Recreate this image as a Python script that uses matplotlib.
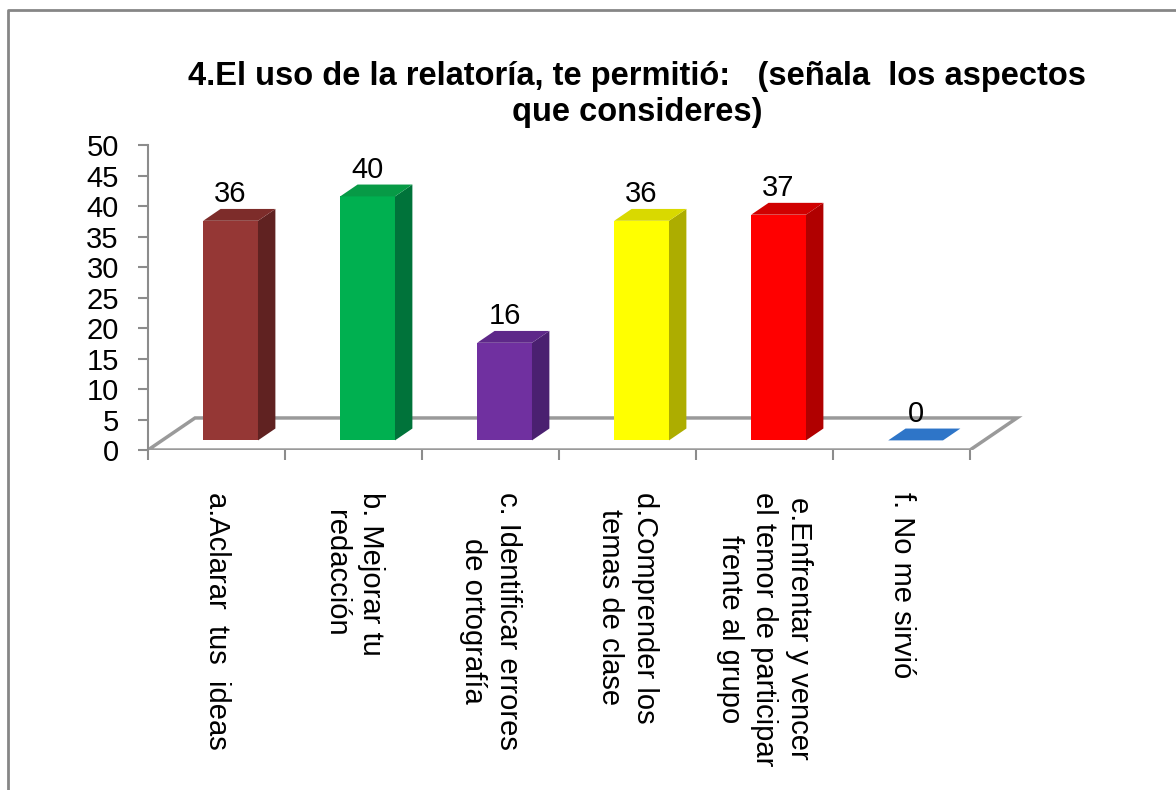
import matplotlib
matplotlib.use("Agg")
import matplotlib.pyplot as plt
from matplotlib.patches import Polygon
from matplotlib.lines import Line2D

plt.rcParams['font.family'] = ['Liberation Sans', 'DejaVu Sans']

titulo = "4.El uso de la relatoría, te permitió:   (señala  los aspectos\nque consideres)"
categorias = ["a.Aclarar  tus  ideas",
              "b. Mejorar tu\nredacción",
              "c. Identificar errores\nde ortografía",
              "d.Comprender los\ntemas de clase",
              "e.Enfrentar y vencer\nel temor de participar\nfrente al grupo",
              "f. No me sirvió"]
valores = [36, 40, 16, 36, 37, 0]

# colores: frente, lado, tapa
frente = ['#953735', '#00B050', '#7030A0', '#FFFF00', '#FF0000', '#2E75C8']
lado = ['#602221', '#00733A', '#4A2070', '#ADAD00', '#B00000', '#1F5590']
tapa = ['#7D2C2A', '#079A46', '#5E2889', '#D9D900', '#D00000', '#2E75C8']

fig = plt.figure(figsize=(11.76, 7.9), dpi=100)
fig.set_facecolor('white')
ax = fig.add_axes([148/1176, 1-450/790, 890.5/1176, 305/790])

# piso en falsa perspectiva
prof_x, prof_y = 0.343, 5.25
n = len(valores)
piso = Polygon([(-0.5, 0), (n-0.5, 0), (n-0.5+prof_x, prof_y), (-0.5+prof_x, prof_y)],
               closed=True, facecolor='white', edgecolor='#9A9A9A', lw=2.5, zorder=1)
ax.add_patch(piso)

ancho = 0.40
f0, f1 = 0.30, 0.67
dx0, dy0 = f0*prof_x, f0*prof_y
sx, sy = (f1-f0)*prof_x, (f1-f0)*prof_y

for i, v in enumerate(valores):
    xl = i - ancho/2 + dx0
    xr = xl + ancho
    top = dy0 + v
    if v > 0:
        ax.bar(xl + ancho/2, v, ancho, bottom=dy0, color=frente[i], zorder=3)
        ax.add_patch(Polygon([(xr, dy0), (xr, top), (xr+sx, top+sy), (xr+sx, dy0+sy)],
                             closed=True, facecolor=lado[i], edgecolor='none', zorder=3))
    ax.add_patch(Polygon([(xl, top), (xr, top), (xr+sx, top+sy), (xl+sx, top+sy)],
                         closed=True, facecolor=tapa[i], edgecolor='none', zorder=3))
    ax.annotate(str(v), (xl + ancho/2, top + sy), xytext=(0, 5), textcoords='offset points',
                ha='center', va='baseline', fontsize=21, zorder=5)

ax.set_xlim(-0.5, 6.0)
ax.set_ylim(0, 50)
ax.set_yticks(range(0, 51, 5))
ax.set_xticks(range(n))
ax.set_xticklabels(categorias)
ax.set_xticks([i - 0.5 for i in range(n+1)], minor=True)

for s in ['top', 'right', 'bottom']:
    ax.spines[s].set_visible(False)
ax.spines['left'].set_color('#8C8C8C')
ax.spines['left'].set_linewidth(1.5)
ax.tick_params(axis='y', length=7, width=1.5, color='#8C8C8C', labelsize=21, pad=14)
ax.tick_params(axis='x', which='major', length=0, labelsize=21, pad=30)
ax.tick_params(axis='x', which='minor', length=7, width=1.5, color='#8C8C8C')
plt.setp(ax.get_xticklabels(), rotation=-90, ha='center', va='top',
         multialignment='center', linespacing=1.3)
ax.patch.set_visible(False)

fig.text(637/1176, 1-61/790, titulo, ha='center', va='top', fontsize=23.5,
         fontweight='bold', linespacing=1.22)

# marco del gráfico
fig.add_artist(Line2D([8/1176, 8/1176, 1], [0, 1-10/790, 1-10/790],
                      transform=fig.transFigure, color='#868686', lw=2))

fig.savefig('out.png', dpi=100)
